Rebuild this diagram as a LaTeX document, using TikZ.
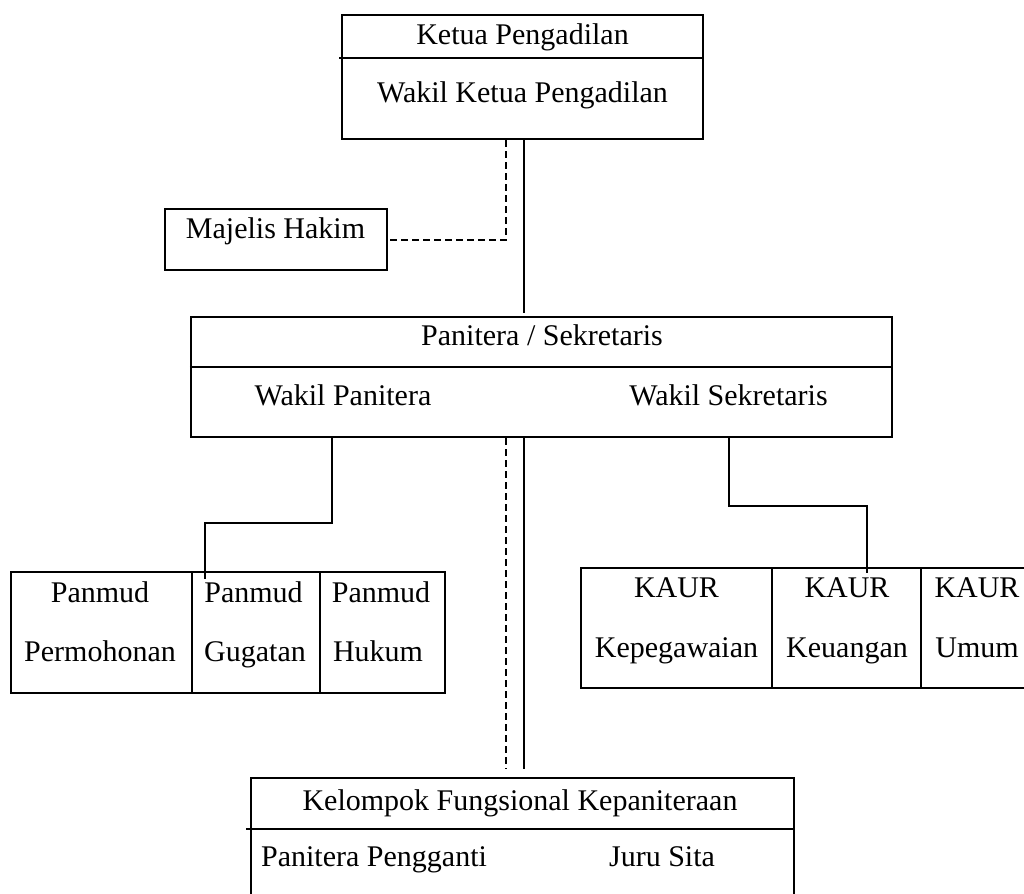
\documentclass[tikz,border=0pt]{standalone}
\usepackage{fontspec}
\setmainfont{Liberation Serif}
\usepackage{tikz}
\usetikzlibrary{positioning}
\tikzset{
  kotak/.style ={rectangle, draw, line width=0.8pt, inner sep=0pt},
  teks/.style  ={anchor=base, inner sep=0pt, font=\fontsize{12}{14}\selectfont},
  garis/.style ={line width=0.6pt},
  putus/.style ={line width=0.8pt, dash pattern=on 2.6pt off 1.8pt},
  sekat/.style ={line width=0.6pt}
}

\begin{document}
\begin{tikzpicture}[x=0.4pt, y=-0.4pt]
\useasboundingbox (0,0) rectangle (1024,893);
\clip (0,0) rectangle (1024,893);

% pimpinan
\node[kotak, minimum width=144.4pt, minimum height=49.6pt] (ketua) at (522.5,77) {};
\draw[sekat] ([xshift=-0.8pt,yshift=-17.6pt]ketua.north west) -- ([yshift=-17.6pt]ketua.north east);
\node[teks] (tKetua) at (522.5,44) {Ketua Pengadilan};
\node[teks] (tWaket) at (522.5,102) {Wakil Ketua Pengadilan};

\node[kotak, minimum width=88.8pt, minimum height=24.4pt] (majelis) at (276,239.5) {};
\node[teks] (tMajelis) at (275.5,238) {Majelis Hakim};

% panitera / sekretaris
\node[kotak, minimum width=280.4pt, minimum height=48pt] (panitera) at (541.5,377) {};
\draw[sekat] ([yshift=-20.4pt]panitera.north west) -- ([yshift=-20.4pt]panitera.north east);
\node[teks] (tPanitera) at (542,345) {Panitera / Sekretaris};
\node[teks] (tWapan) at (343,405) {Wakil Panitera};
\node[teks] (tWasek) at (728.5,405) {Wakil Sekretaris};

% kepaniteraan
\node[kotak, minimum width=72.4pt, minimum height=48.4pt] (permohonan) at (101.5,632.5) {};
\node[kotak, minimum width=51.2pt, minimum height=48.4pt] (gugatan) at (256,632.5) {};
\node[kotak, minimum width=50pt, minimum height=48.4pt] (hukum) at (382.5,632.5) {};
\node[teks] (tPm1) at (100,602) {Panmud};
\node[teks] (tPm2) at (100,661) {Permohonan};
\node[teks] (tGg1) at (253.5,602) {Panmud};
\node[teks] (tGg2) at (255,661) {Gugatan};
\node[teks] (tHk1) at (381,602) {Panmud};
\node[teks] (tHk2) at (378,661) {Hukum};

% kesekretariatan
\node[kotak, minimum width=76.4pt, minimum height=48pt] (kepegawaian) at (676.5,628) {};
\node[kotak, minimum width=59.6pt, minimum height=48pt] (keuangan) at (846.5,628) {};
\node[kotak, minimum width=44.8pt, minimum height=48pt] (umum) at (977,628) {};
\node[teks] (tKp1) at (676.5,597) {KAUR};
\node[teks] (tKp2) at (676.5,657) {Kepegawaian};
\node[teks] (tKu1) at (847,597) {KAUR};
\node[teks] (tKu2) at (847,657) {Keuangan};
\node[teks] (tUm1) at (977,597) {KAUR};
\node[teks] (tUm2) at (977,657) {Umum};

% fungsional
\node[kotak, minimum width=217.2pt, minimum height=64.8pt] (kelompok) at (522.5,859) {};
\draw[sekat] ([xshift=-1.6pt,yshift=-20.8pt]kelompok.north west) -- ([yshift=-20.8pt]kelompok.north east);
\node[teks] (tKelompok) at (520,810) {Kelompok Fungsional Kepaniteraan};
\node[teks] (tPp) at (374,866) {Panitera Pengganti};
\node[teks] (tJs) at (662,866) {Juru Sita};

% garis komando (solid) dan koordinasi (putus-putus)
\coordinate (poros) at (524,0);
\coordinate (porosD) at (506,0);
\draw[garis, shorten >=1.2pt] (ketua.south -| poros) -- (panitera.north -| poros);
\draw[putus] (ketua.south -| porosD) |- (majelis.east);
\draw[garis, shorten >=3.2pt] (panitera.south -| poros) -- (kelompok.north -| poros);
\draw[putus, shorten >=3.2pt] (panitera.south -| porosD) -- (kelompok.north -| porosD);

\coordinate (belokKiri) at (332,523);
\coordinate (ujungKiri) at (205,579);
\draw[garis] (panitera.south -| belokKiri) -- (belokKiri) -| (ujungKiri);
\coordinate (belokKanan) at (729,506);
\coordinate (ujungKanan) at (867,573);
\draw[garis] (panitera.south -| belokKanan) -- (belokKanan) -| (ujungKanan);
\end{tikzpicture}
\end{document}
